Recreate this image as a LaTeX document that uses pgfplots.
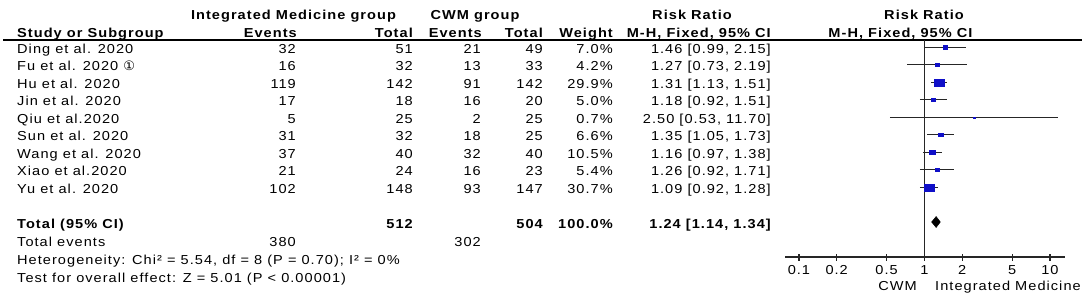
\documentclass[border=0pt]{standalone}
\usepackage{fontspec}
\setmainfont{Liberation Sans}[FakeStretch=1.12, LetterSpace=8, BoldFeatures={LetterSpace=8}]
\newfontfamily\symfont{DejaVu Sans}
\usepackage{pgfplots}
\pgfplotsset{compat=1.18}
\definecolor{boxblue}{RGB}{15,15,200}
\newcommand\f{\fontsize{13bp}{15bp}\selectfont}
\newcommand\row[8]{%
  \node[anchor=base west] at (17,-#1) {#2};
  \node[anchor=base east] at (296,-#1) {#3};
  \node[anchor=base east] at (413,-#1) {#4};
  \node[anchor=base east] at (481,-#1) {#5};
  \node[anchor=base east] at (543,-#1) {#6};
  \node[anchor=base east] at (613,-#1) {#7};
  \node[anchor=base east] at (771,-#1) {#8};
}
\begin{document}
\begin{tikzpicture}
\useasboundingbox (0bp,0bp) rectangle (1084bp,-303bp);
\begin{scope}[x=1bp,y=1bp, every node/.style={inner sep=0pt, font=\f}]
% headers
\node[anchor=base, font=\f\bfseries] at (293.5,-19.3) {Integrated Medicine group};
\node[anchor=base, font=\f\bfseries] at (475,-19.3) {CWM group};
\node[anchor=base, font=\f\bfseries] at (692,-19.3) {Risk Ratio};
\node[anchor=base, font=\f\bfseries] at (924,-19.3) {Risk Ratio};
\node[anchor=base west, font=\f\bfseries] at (17,-37.3) {Study or Subgroup};
\node[anchor=base east, font=\f\bfseries] at (297,-37.3) {Events};
\node[anchor=base east, font=\f\bfseries] at (413,-37.3) {Total};
\node[anchor=base east, font=\f\bfseries] at (482,-37.3) {Events};
\node[anchor=base east, font=\f\bfseries] at (543,-37.3) {Total};
\node[anchor=base east, font=\f\bfseries] at (613,-37.3) {Weight};
\node[anchor=base east, font=\f\bfseries] at (771,-37.3) {M-H, Fixed, 95\% CI};
\node[anchor=base, font=\f\bfseries] at (900.5,-37.3) {M-H, Fixed, 95\% CI};
\draw[line width=1.3bp] (3,-40) -- (1082,-40);
% rows
\row{53.3}{Ding et al. 2020}{32}{51}{21}{49}{7.0\%}{1.46 [0.99, 2.15]}
\row{70.8}{Fu et al. 2020 {\symfont\fontsize{13bp}{15bp}\selectfont ①}}{16}{32}{13}{33}{4.2\%}{1.27 [0.73, 2.19]}
\row{88.3}{Hu et al. 2020}{119}{142}{91}{142}{29.9\%}{1.31 [1.13, 1.51]}
\row{105.8}{Jin et al. 2020}{17}{18}{16}{20}{5.0\%}{1.18 [0.92, 1.51]}
\row{123.3}{Qiu et al.2020}{5}{25}{2}{25}{0.7\%}{2.50 [0.53, 11.70]}
\row{140.8}{Sun et al. 2020}{31}{32}{18}{25}{6.6\%}{1.35 [1.05, 1.73]}
\row{158.3}{Wang et al. 2020}{37}{40}{32}{40}{10.5\%}{1.16 [0.97, 1.38]}
\row{175.8}{Xiao et al.2020}{21}{24}{16}{23}{5.4\%}{1.26 [0.92, 1.71]}
\row{193.3}{Yu et al. 2020}{102}{148}{93}{147}{30.7\%}{1.09 [0.92, 1.28]}
\begin{scope}[every node/.append style={font=\f\bfseries}]
\row{228}{Total (95\% CI)}{}{512}{}{504}{100.0\%}{1.24 [1.14, 1.34]}
\end{scope}
\row{246.5}{Total events}{380}{}{302}{}{}{}
\node[anchor=base west] at (17,-264.3) {Heterogeneity: Chi² = 5.54, df = 8 (P = 0.70); I² = 0\%};
\node[anchor=base west] at (17,-282) {Test for overall effect: Z = 5.01 (P < 0.00001)};
\node[anchor=base east] at (917,-290.7) {CWM};
\node[anchor=base west] at (935,-290.7) {Integrated Medicine};
\end{scope}
% forest plot
\begin{axis}[at={(785bp,-257bp)}, anchor=south west, scale only axis,
  width=280bp, height=217bp, xmode=log,
  xmin=0.0775, xmax=13.19, ymin=-257, ymax=-40,
  axis x line=bottom, axis y line=none,
  axis line style={-, line width=1.2bp, black!85},
  xtick={0.1,0.2,0.5,1,2,5,10}, xticklabels={0.1,0.2,0.5,1,2,5,10},
  minor xtick={}, xtick align=center, major tick length=7bp,
  every tick/.style={line width=1.2bp, black!85},
  xticklabel style={font=\f, anchor=base, inner sep=0pt, yshift=-14bp},
  clip=false]
\addplot[line width=1.4bp, black!85] coordinates {(1,-40) (1,-257)};
\addplot[line width=1bp, black!85] coordinates {(0.99,-47.3) (2.15,-47.3)};
\addplot[line width=1bp, black!85] coordinates {(0.73,-64.8) (2.19,-64.8)};
\addplot[line width=1bp, black!85] coordinates {(1.13,-82.3) (1.51,-82.3)};
\addplot[line width=1bp, black!85] coordinates {(0.92,-99.8) (1.51,-99.8)};
\addplot[line width=1bp, black!85] coordinates {(0.53,-117.3) (11.70,-117.3)};
\addplot[line width=1bp, black!85] coordinates {(1.05,-134.8) (1.73,-134.8)};
\addplot[line width=1bp, black!85] coordinates {(0.97,-152.3) (1.38,-152.3)};
\addplot[line width=1bp, black!85] coordinates {(0.92,-169.8) (1.71,-169.8)};
\addplot[line width=1bp, black!85] coordinates {(0.92,-187.3) (1.28,-187.3)};
\addplot[only marks, mark=square*, mark options={fill=boxblue, draw=boxblue, xscale=1.4}, mark size=1.65] coordinates {(1.46,-47.3)};
\addplot[only marks, mark=square*, mark options={fill=boxblue, draw=boxblue, xscale=1.4}, mark size=1.3] coordinates {(1.27,-64.8)};
\addplot[only marks, mark=square*, mark options={fill=boxblue, draw=boxblue, xscale=1.4}, mark size=3.45] coordinates {(1.31,-82.3)};
\addplot[only marks, mark=square*, mark options={fill=boxblue, draw=boxblue, xscale=1.4}, mark size=1.4] coordinates {(1.18,-99.8)};
\addplot[only marks, mark=square*, mark options={fill=boxblue, draw=boxblue, xscale=1.4}, mark size=0.6] coordinates {(2.50,-117.3)};
\addplot[only marks, mark=square*, mark options={fill=boxblue, draw=boxblue, xscale=1.4}, mark size=1.6] coordinates {(1.35,-134.8)};
\addplot[only marks, mark=square*, mark options={fill=boxblue, draw=boxblue, xscale=1.4}, mark size=2.05] coordinates {(1.16,-152.3)};
\addplot[only marks, mark=square*, mark options={fill=boxblue, draw=boxblue, xscale=1.4}, mark size=1.45] coordinates {(1.26,-169.8)};
\addplot[only marks, mark=square*, mark options={fill=boxblue, draw=boxblue, xscale=1.4}, mark size=3.5] coordinates {(1.09,-187.3)};
\addplot[fill=black, draw=black] coordinates {(1.14,-222) (1.24,-216.5) (1.34,-222) (1.24,-227.5) (1.14,-222)};
\end{axis}
\end{tikzpicture}
\end{document}
